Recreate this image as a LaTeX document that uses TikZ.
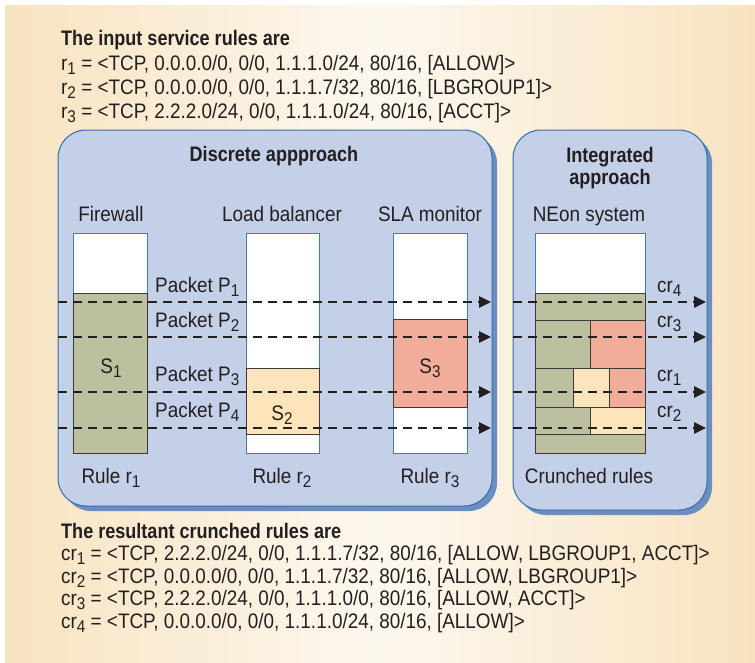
\documentclass[tikz,border=0pt]{standalone}
\usepackage{fontspec}
\setmainfont[FakeStretch=0.90, BoldFeatures={FakeStretch=0.86}]{Liberation Sans}
\usetikzlibrary{arrows.meta}

\definecolor{ink}{HTML}{231F20}
\definecolor{paperedge}{HTML}{F8E3C0}
\definecolor{papermid}{HTML}{FDF8EF}
\definecolor{panelfill}{HTML}{C4CFE8}
\definecolor{panelline}{HTML}{2F6FAE}
\definecolor{panelshadow}{HTML}{6C8DC0}
\definecolor{colline}{HTML}{3D7DBF}
\definecolor{segline}{HTML}{3A3A3A}
\definecolor{sone}{HTML}{BDC09E}
\definecolor{stwo}{HTML}{FDE4BA}
\definecolor{sthree}{HTML}{F2AC9A}

% lowered, slightly smaller index used in r1, P1, S1, cr1 ...
\newcommand\subs[1]{\raisebox{-4.5pt}{\fontsize{17}{17}\selectfont #1}}

\tikzset{
  txt/.style={inner sep=0pt, text=ink, font=\fontsize{21}{24}\selectfont},
  lbl/.style={txt, anchor=base},
  txtline/.style={txt, anchor=base west},
  boldtxt/.style={font=\fontsize{21}{24}\selectfont\bfseries},
  panel/.style={draw=panelline, fill=panelfill, line width=1pt, rounded corners=28pt},
  panelshade/.style={fill=panelshadow, rounded corners=28pt},
  column/.style={draw=colline, fill=white, line width=1pt},
  seg/.style={draw=segline, line width=0.8pt},
  flow/.style={draw=ink, line width=2.7pt, dash pattern=on 9pt off 6pt,
               -{Triangle[length=12pt, width=11pt]}},
}

\begin{document}
\begin{tikzpicture}[x=1pt, y=-1pt]
\useasboundingbox (0,0) rectangle (755,662);
\fill[white] (0,0) rectangle (755,662);
\shade[left color=paperedge, right color=paperedge, middle color=papermid]
  (5,5) rectangle (755,662);

% input rules
\node[txtline, boldtxt] (inhead) at (61,45) {The input service rules are};
\node[txtline] (r1) at (61,70) {r\subs{1} = <TCP, 0.0.0.0/0, 0/0, 1.1.1.0/24, 80/16, [ALLOW]>};
\node[txtline] (r2) at (61,94) {r\subs{2} = <TCP, 0.0.0.0/0, 0/0, 1.1.1.7/32, 80/16, [LBGROUP1]>};
\node[txtline] (r3) at (61,118) {r\subs{3} = <TCP, 2.2.2.0/24, 0/0, 1.1.1.0/24, 80/16, [ACCT]>};

% panels with their offset shadows
\path[panelshade] (63,135) rectangle (497,511);
\path[panel] (58,130) rectangle (492,506);
\path[panelshade] (518,135) rectangle (712,515);
\path[panel] (513,130) rectangle (707,510);

\node[lbl, boldtxt] (disc) at (274,161) {Discrete appproach};
\node[lbl, boldtxt] (integ1) at (610,162) {Integrated};
\node[lbl, boldtxt] (integ2) at (610,184) {approach};

\node[lbl] (fwname) at (111,221) {Firewall};
\node[lbl] (lbname) at (282,221) {Load balancer};
\node[lbl] (slaname) at (430,221) {SLA monitor};
\node[lbl] (neonname) at (589,221) {NEon system};

% rule tables of the three devices
\path[column] (73.3,233) rectangle (147.3,453);
\path[seg, fill=sone] (73.3,293) rectangle (147.3,453);
\path[column] (246,233) rectangle (319.5,453);
\path[seg, fill=stwo] (246,368.3) rectangle (319.5,434.3);
\path[column] (393,233) rectangle (467,453);
\path[seg, fill=sthree] (393,319.5) rectangle (467,407.3);

\node[lbl] (s1) at (111,373) {S\subs{1}};
\node[lbl] (s2) at (282,420) {S\subs{2}};
\node[lbl] (s3) at (430,373) {S\subs{3}};

% crunched rule table
\path[column] (535,233) rectangle (645,453);
\path[seg, fill=sone] (535,293) rectangle (645,320);
\path[seg, fill=sone] (535,320) rectangle (590,368.3);
\path[seg, fill=sthree] (590,320) rectangle (645,368.3);
\path[seg, fill=sone] (535,368.3) rectangle (573,407.3);
\path[seg, fill=stwo] (573,368.3) rectangle (609,407.3);
\path[seg, fill=sthree] (609,368.3) rectangle (645,407.3);
\path[seg, fill=sone] (535,407.3) rectangle (590,434.3);
\path[seg, fill=stwo] (590,407.3) rectangle (645,434.3);
\path[seg, fill=sone] (535,434.3) rectangle (645,453);

% packets through the discrete devices
\foreach \i/\y in {1/302,2/337,3/392,4/428} {
  \coordinate (pin\i) at (58,\y);
  \coordinate (pout\i) at (491,\y);
  \draw[flow] (pin\i) -- (pout\i);
}
\node[txtline] (pk1) at (155,292) {Packet P\subs{1}};
\node[txtline] (pk2) at (155,327) {Packet P\subs{2}};
\node[txtline] (pk3) at (155,381) {Packet P\subs{3}};
\node[txtline] (pk4) at (155,417) {Packet P\subs{4}};

% packets through the integrated system
\foreach \i/\y in {4/302,3/337,1/392,2/428} {
  \coordinate (cin\i) at (513,\y);
  \coordinate (cout\i) at (706,\y);
  \draw[flow] (cin\i) -- (cout\i);
}
\node[txtline] (cr4) at (657,292) {cr\subs{4}};
\node[txtline] (cr3) at (657,327) {cr\subs{3}};
\node[txtline] (cr1) at (657,381) {cr\subs{1}};
\node[txtline] (cr2) at (657,417) {cr\subs{2}};

\node[lbl] (rule1) at (111,483) {Rule r\subs{1}};
\node[lbl] (rule2) at (282,483) {Rule r\subs{2}};
\node[lbl] (rule3) at (430,483) {Rule r\subs{3}};
\node[lbl] (crunch) at (589,483) {Crunched rules};

% resulting crunched rules
\node[txtline, boldtxt] (outhead) at (61,538) {The resultant crunched rules are};
\node[txtline] (o1) at (61,560) {cr\subs{1} = <TCP, 2.2.2.0/24, 0/0, 1.1.1.7/32, 80/16, [ALLOW, LBGROUP1, ACCT]>};
\node[txtline] (o2) at (61,583) {cr\subs{2} = <TCP, 0.0.0.0/0, 0/0, 1.1.1.7/32, 80/16, [ALLOW, LBGROUP1]>};
\node[txtline] (o3) at (61,605) {cr\subs{3} = <TCP, 2.2.2.0/24, 0/0, 1.1.1.0/0, 80/16, [ALLOW, ACCT]>};
\node[txtline] (o4) at (61,628) {cr\subs{4} = <TCP, 0.0.0.0/0, 0/0, 1.1.1.0/24, 80/16, [ALLOW]>};
\end{tikzpicture}
\end{document}
